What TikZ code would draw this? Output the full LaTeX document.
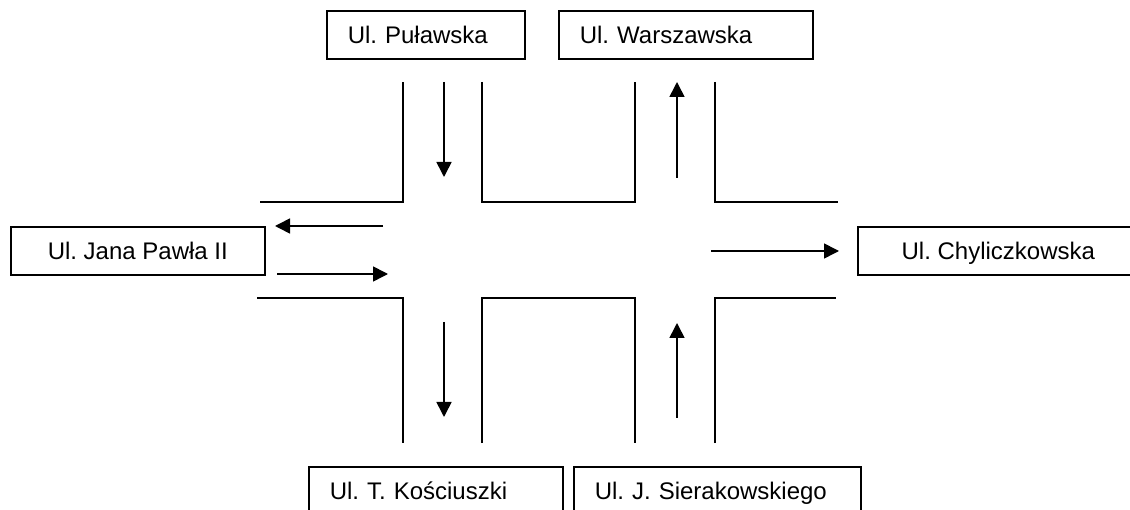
\documentclass[tikz,border=0pt]{standalone}
\usepackage{fontspec}
\setmainfont{Liberation Sans}
\usepackage{tikz}
\usetikzlibrary{arrows.meta}
\frenchspacing

\tikzset{
    road/.style={line width=1.6pt},
    lane/.style={line width=1.6pt, -{Triangle[length=15pt, width=15pt]}},
    street/.style={draw, line width=1.6pt, anchor=north west, inner sep=0pt,
        minimum height=48pt, text height=17pt, text depth=0pt},
    streetleft/.style={street, inner xsep=21pt, text width=#1, align=left}
}

\begin{document}
\begin{tikzpicture}[x=1pt, y=-1pt, font=\fontsize{24}{28}\selectfont]
    \useasboundingbox (0, 0) rectangle (1130, 510);
    % Street names:
    \node[streetleft=156pt] (pulawska) at (326, 10) {Ul. Puławska};
    \node[streetleft=212pt] (warszawska) at (558, 10) {Ul. Warszawska};
    \node[street, minimum width=254pt] (jpawla) at (10, 226) {Ul. Jana Pawła II};
    \node[street, minimum width=281pt] (chyliczkowska) at (857, 226) {Ul. Chyliczkowska};
    \node[streetleft=212pt] (kosciuszki) at (308, 466) {Ul. T. Kościuszki};
    \node[streetleft=245pt] (sierakowskiego) at (573, 466) {Ul. J. Sierakowskiego};
    % Kerbs of the crossing:
    \draw[road] (260, 202) -- (403, 202) -- (403, 82);
    \draw[road] (482, 82) -- (482, 202) -- (635, 202) -- (635, 82);
    \draw[road] (715, 82) -- (715, 202) -- (838, 202);
    \draw[road] (257, 298) -- (403, 298) -- (403, 443);
    \draw[road] (482, 443) -- (482, 298) -- (635, 298) -- (635, 443);
    \draw[road] (715, 443) -- (715, 298) -- (836, 298);
    % Traffic directions:
    \draw[lane] (444, 82) -- (444, 177);
    \draw[lane] (677, 178) -- (677, 82);
    \draw[lane] (383, 226) -- (275, 226);
    \draw[lane] (277, 274) -- (388, 274);
    \draw[lane] (711, 251) -- (839, 251);
    \draw[lane] (444, 322) -- (444, 417);
    \draw[lane] (677, 418) -- (677, 323);
\end{tikzpicture}
\end{document}
